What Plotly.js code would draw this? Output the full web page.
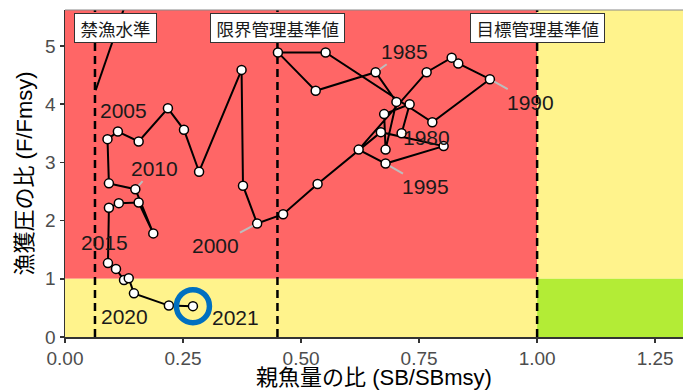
<!DOCTYPE html>
<html>
<head>
<meta charset="utf-8">
<script src="https://cdn.plot.ly/plotly-3.0.1.min.js"></script>
<style>
html,body{margin:0;padding:0;background:#fff;}
#chart{width:683px;height:390px;}
</style>
</head>
<body>
<div id="chart"></div>
<script>
// ---- data ----
const years = [1980,1981,1982,1983,1984,1985,1986,1987,1988,1989,
               1990,1991,1992,1993,1994,1995,1996,1997,1998,1999,
               2000,2001,2002,2003,2004,2005,2006,2007,2008,2009,
               2010,2011,2012,2013,2014,2015,2016,2017,2018,2019,
               2020,2021];
const sbRatio = [0.713,0.730,0.676,0.679,0.702,0.658,0.531,0.451,0.552,0.778,
                 0.900,0.833,0.819,0.766,0.622,0.679,0.802,0.669,0.535,0.462,
                 0.407,0.377,0.374,0.284,0.252,0.218,0.156,0.112,0.090,0.093,
                 0.149,0.187,0.156,0.114,0.093,0.091,0.108,0.125,0.135,0.146,
                 0.220,0.271];
const fRatio = [3.50,4.00,3.83,3.22,4.04,4.55,4.23,4.89,4.89,3.69,
                4.43,4.70,4.80,4.55,3.22,2.98,3.28,3.52,2.63,2.11,
                1.95,2.60,4.59,2.84,3.56,3.93,3.36,3.53,3.40,2.64,
                2.54,1.78,2.31,2.30,2.22,1.27,1.17,0.98,1.01,0.75,
                0.54,0.53];
// segment leaving the top of the panel near the 禁漁水準 line
const offSegSB = [0.065, 0.14];
const offSegF  = [4.24, 6.0];

// reference points
const refValues = [0.0635, 0.45, 1.0];
const refNames  = ['禁漁水準', '限界管理基準値', '目標管理基準値'];

// tick labels
const xTicks = [0, 0.25, 0.5, 0.75, 1.0, 1.25];
const xTickText = ['0.00','0.25','0.50','0.75','1.00','1.25'];
const yTicks = [0,1,2,3,4,5];

// labelled years and where their text sits (pixel offsets, layout only)
const labelYears = [1980,1985,1990,1995,2000,2005,2010,2015,2020,2021];
const labelPlace = {
  1980:{dx:25, dy:4,  lead:false},
  1985:{dx:29, dy:-21, lead:true},
  1990:{dx:41, dy:23, lead:true},
  1995:{dx:40, dy:23, lead:true},
  2000:{dx:-42,dy:22, lead:true},
  2005:{dx:-44,dy:2,  lead:false},
  2010:{dx:19, dy:-21, lead:true},
  2015:{dx:-3, dy:-21, lead:false},
  2020:{dx:-44,dy:11, lead:false},
  2021:{dx:43, dy:11, lead:false}
};

// ---- chart ----
const X_MAX = 1.309, Y_MAX = 5.619;
const RED = '#FF6666', YEL = '#FFF38C', GRN = '#B3EC36';

const traces = [
  {x: offSegSB, y: offSegF, mode:'lines', line:{color:'#000', width:2}, hoverinfo:'skip', showlegend:false},
  {x: sbRatio, y: fRatio, mode:'lines+markers',
   line:{color:'#000', width:2},
   marker:{size:9, color:'#fff', line:{color:'#000', width:1.5}},
   showlegend:false},
  {x:[sbRatio[sbRatio.length-1]], y:[fRatio[fRatio.length-1]], mode:'markers',
   marker:{symbol:'circle-open', size:33, color:'#0070C0', line:{color:'#0070C0', width:5.5}},
   showlegend:false}
];

const shapes = [
  {type:'rect', xref:'x', yref:'y', x0:0, x1:refValues[2], y0:1, y1:Y_MAX, fillcolor:RED, line:{width:0}, layer:'below'},
  {type:'rect', xref:'x', yref:'y', x0:0, x1:refValues[2], y0:0, y1:1, fillcolor:YEL, line:{width:0}, layer:'below'},
  {type:'rect', xref:'x', yref:'y', x0:refValues[2], x1:X_MAX, y0:1, y1:Y_MAX, fillcolor:YEL, line:{width:0}, layer:'below'},
  {type:'rect', xref:'x', yref:'y', x0:refValues[2], x1:X_MAX, y0:0, y1:1, fillcolor:GRN, line:{width:0}, layer:'below'},
  {type:'line', xref:'paper', yref:'paper', x0:0, x1:1, y0:1, y1:1, line:{color:'#8a8a8a', width:1.2}}
];
refValues.forEach(v => shapes.push({
  type:'line', xref:'x', yref:'y', x0:v, x1:v, y0:0, y1:Y_MAX,
  line:{color:'#000', width:2.5, dash:'8px,5px'}, layer:'below'
}));

const annotations = [];
const boxShift = [21, 0, 0];
refValues.forEach((v,i) => annotations.push({
  x:v, xref:'x', y:0.946, yref:'paper', xanchor:'center', yanchor:'middle',
  text:'&nbsp;' + refNames[i] + '&nbsp;', showarrow:false,
  xshift:boxShift[i],
  font:{family:'Noto Sans CJK JP', size:17.5, color:'#1a1a1a'},
  bgcolor:'#fff', bordercolor:'#333', borderwidth:1, borderpad:1.5
}));
labelYears.forEach(yr => {
  const i = years.indexOf(yr);
  const p = labelPlace[yr];
  const a = {x:sbRatio[i], y:fRatio[i], xref:'x', yref:'y', text:String(yr),
    font:{family:'Liberation Sans, Arial, sans-serif', size:21, color:'#1a1a1a'}};
  if (p.lead) {
    Object.assign(a, {showarrow:true, ax:p.dx, ay:p.dy, axref:'pixel', ayref:'pixel',
      arrowhead:0, arrowwidth:2, arrowcolor:'#bdbdbd', standoff:5});
  } else {
    Object.assign(a, {showarrow:false, xshift:p.dx, yshift:-p.dy});
  }
  annotations.push(a);
});

const axisCommon = {
  showgrid:false, zeroline:false, showline:true, linecolor:'#333', linewidth:1.5,
  ticks:'outside', ticklen:4, tickwidth:1.5, tickcolor:'#333',
  tickfont:{family:'Liberation Sans, Arial, sans-serif', size:19, color:'#4d4d4d'}
};

const layout = {
  width:683, height:390,
  margin:{l:65, r:0, t:10, b:53},
  paper_bgcolor:'#fff', plot_bgcolor:'#fff',
  xaxis: Object.assign({}, axisCommon, {
    range:[0, X_MAX], tickvals:xTicks, ticktext:xTickText,
    title:{text:'親魚量の比 (SB/SBmsy)', standoff:1,
      font:{family:'Liberation Sans, Noto Sans CJK JP', size:22, color:'#000'}}
  }),
  yaxis: Object.assign({}, axisCommon, {
    range:[0, Y_MAX], tickvals:yTicks,
    title:{text:'漁獲圧の比 (F/Fmsy)', standoff:6,
      font:{family:'Liberation Sans, Noto Sans CJK JP', size:22, color:'#000'}}
  }),
  shapes:shapes, annotations:annotations, showlegend:false
};

Plotly.newPlot('chart', traces, layout, {displayModeBar:false, staticPlot:true});
</script>
</body>
</html>
